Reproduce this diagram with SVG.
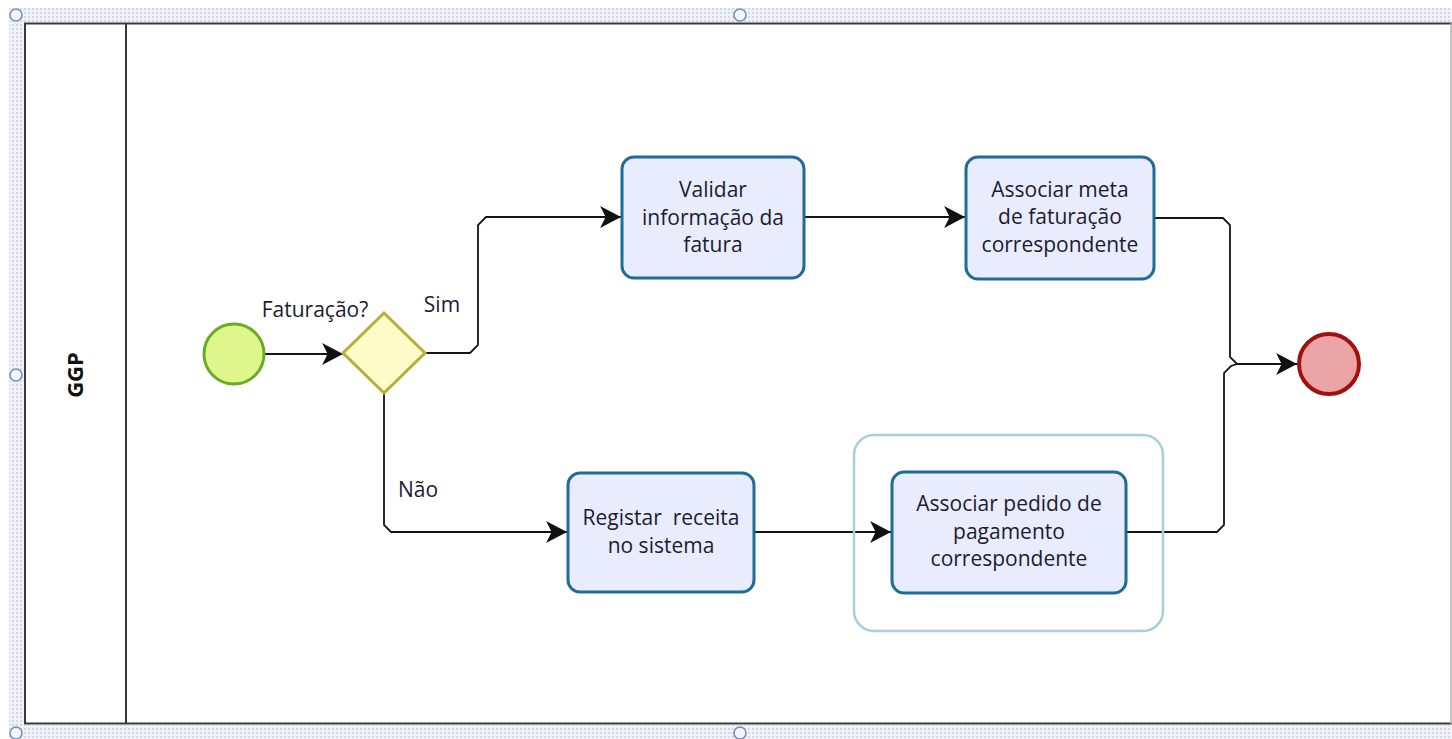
<svg xmlns="http://www.w3.org/2000/svg" width="1452" height="739" viewBox="0 0 1452 739">
  <defs>
    <pattern id="hatch" width="4" height="4" patternUnits="userSpaceOnUse">
      <rect width="4" height="4" fill="#f1f2f7"/>
      <rect x="0" y="0" width="2" height="2" fill="#d3d8e6"/>
    </pattern>
    <marker id="arrow" markerUnits="userSpaceOnUse" markerWidth="22" markerHeight="22" refX="19" refY="10" orient="auto" viewBox="0 0 20 20">
      <path d="M0,0 L19,10 L0,20 L5,10 Z" fill="#111"/>
    </marker>
    <style>
      .pool { fill: #ffffff; stroke: #3a3a3a; stroke-width: 2; }
      .handle { fill: #f4f6fb; stroke: #7d8cbf; stroke-width: 1.6; }
      .task { fill: #e9ecfd; stroke: #1f6c99; stroke-width: 3; }
      .group { fill: none; stroke: #a9cddf; stroke-width: 2.5; }
      .flow { fill: none; stroke: #151515; stroke-width: 1.8; }
      .lbl { font-family: "Open Sans", "Noto Sans", sans-serif; font-size: 21px; fill: #1c1c30; text-anchor: middle; white-space: pre; }
      .lane { font-family: "Open Sans", "Noto Sans", sans-serif; font-size: 22px; font-weight: bold; fill: #111; text-anchor: middle; }
    </style>
  </defs>

  <rect width="1452" height="739" fill="#ffffff"/>

  <!-- selection frame around the pool -->
  <g id="selection">
    <rect x="9" y="8" width="1443" height="14" fill="url(#hatch)"/>
    <rect x="9" y="8" width="15" height="731" fill="url(#hatch)"/>
    <rect x="9" y="725" width="1443" height="14" fill="url(#hatch)"/>
    <circle class="handle" cx="16" cy="15" r="6"/>
    <circle class="handle" cx="740" cy="15" r="6"/>
    <circle class="handle" cx="16" cy="375" r="6"/>
    <circle class="handle" cx="16" cy="733" r="6"/>
    <circle class="handle" cx="740" cy="733" r="6"/>
  </g>

  <!-- pool with lane header -->
  <g id="pool">
    <rect class="pool" x="25" y="23.5" width="1440" height="700"/>
    <line x1="126" y1="23.5" x2="126" y2="723.5" stroke="#3a3a3a" stroke-width="2"/>
    <line x1="1451" y1="23" x2="1451" y2="724" stroke="#b0b0b0" stroke-width="1.5"/>
    <text class="lane" transform="translate(83,375) rotate(-90)">GGP</text>
  </g>

  <!-- sequence flows -->
  <g id="connectors">
    <path class="flow" d="M265,354 L343,354" marker-end="url(#arrow)"/>
    <path class="flow" d="M425,353 L470,353 L478,345 L478,225 L486,217 L621,217" marker-end="url(#arrow)"/>
    <path class="flow" d="M804,217 L965,217" marker-end="url(#arrow)"/>
    <path class="flow" d="M384,393 L384,525 L391,532 L567,532" marker-end="url(#arrow)"/>
    <path class="flow" d="M754,532 L891,532" marker-end="url(#arrow)"/>
    <path class="flow" d="M1154,218 L1223,218 L1230,225 L1230,357 L1237,364 L1297,364" marker-end="url(#arrow)"/>
    <path class="flow" d="M1126,532 L1217,532 L1224,525 L1224,373 L1231,366 L1237,364"/>
  </g>

  <!-- flow labels -->
  <g id="labels">
    <text class="lbl" x="315" y="317">Faturação?</text>
    <text class="lbl" x="442" y="312">Sim</text>
    <text class="lbl" x="418" y="497">Não</text>
  </g>

  <g id="start">
    <circle cx="234" cy="354" r="30" fill="#dff68c" stroke="#68ac26" stroke-width="3"/>
  </g>

  <g id="gateway">
    <polygon points="384,313 425,353 384,393 343,353" fill="#fdfcc8" stroke="#b1b13a" stroke-width="3"/>
  </g>

  <g id="task-validar">
    <rect class="task" x="622" y="157" width="182" height="121" rx="12"/>
    <text class="lbl" x="713" y="197">Validar</text>
    <text class="lbl" x="713" y="225">informação da</text>
    <text class="lbl" x="713" y="252">fatura</text>
  </g>

  <g id="task-meta">
    <rect class="task" x="966" y="157" width="188" height="122" rx="12"/>
    <text class="lbl" x="1060" y="197">Associar meta</text>
    <text class="lbl" x="1060" y="224">de faturação</text>
    <text class="lbl" x="1060" y="252">correspondente</text>
  </g>

  <g id="task-registar">
    <rect class="task" x="568" y="473" width="186" height="119" rx="12"/>
    <text class="lbl" x="661" y="525">Registar  receita</text>
    <text class="lbl" x="661" y="553">no sistema</text>
  </g>

  <g id="group-pedido">
    <rect class="group" x="854" y="435" width="309" height="196" rx="20"/>
  </g>

  <g id="task-pedido">
    <rect class="task" x="892" y="472" width="234" height="121" rx="12"/>
    <text class="lbl" x="1009" y="511">Associar pedido de</text>
    <text class="lbl" x="1009" y="539">pagamento</text>
    <text class="lbl" x="1009" y="566">correspondente</text>
  </g>

  <g id="end">
    <circle cx="1329" cy="364" r="30" fill="#eba5a6" stroke="#a30f0f" stroke-width="4"/>
  </g>
</svg>
